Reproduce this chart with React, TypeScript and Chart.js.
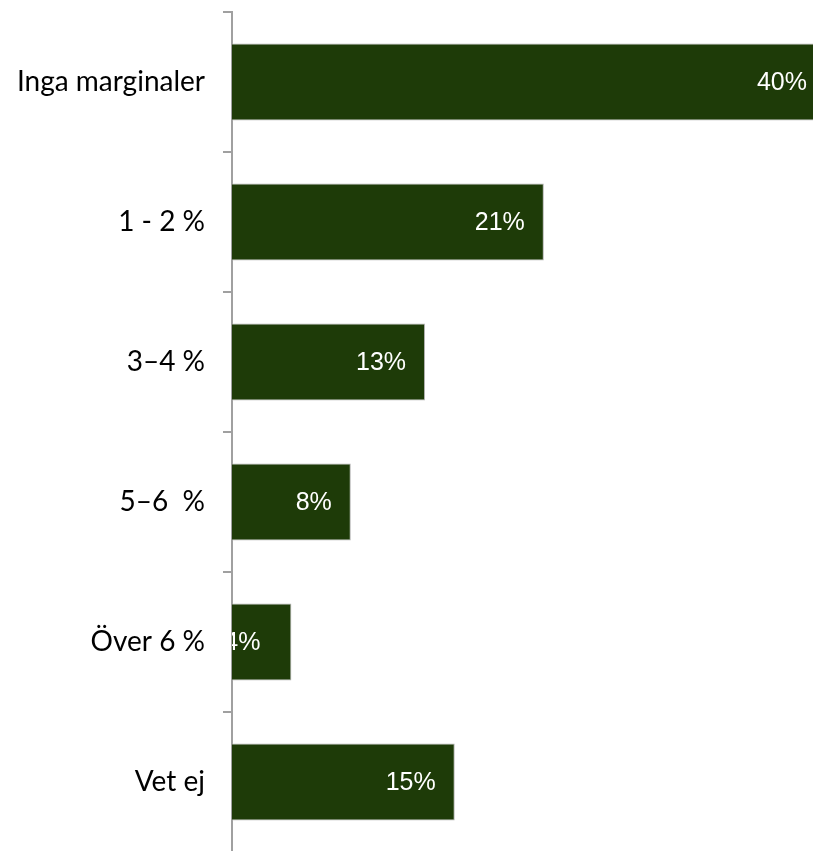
import React, { useEffect, useRef } from "react";
import { Chart, registerables } from "chart.js";

Chart.register(...registerables);

const categories = ["Inga marginaler", "1 - 2 %", "3–4 %", "5–6  %", "Över 6 %", "Vet ej"];
const values = [40, 21, 13, 8, 4, 15];
const valueLabels = ["40%", "21%", "13%", "8%", "4%", "15%"];

const BAR_COLOR = "#1e3b08";
const AXIS_COLOR = "#a0a0a0";

export default function App() {
  const ref = useRef<HTMLCanvasElement | null>(null);

  useEffect(() => {
    if (!ref.current) return;
    const labelPlugin = {
      id: "valueLabels",
      afterDatasetsDraw(chart: any) {
        const ctx = chart.ctx;
        const meta = chart.getDatasetMeta(0);
        const area = chart.chartArea;
        ctx.save();
        ctx.beginPath();
        ctx.rect(area.left, 0, chart.width, chart.height);
        ctx.clip();
        ctx.fillStyle = "#ffffff";
        ctx.font = "25px 'Liberation Sans', Arial, sans-serif";
        ctx.textAlign = "right";
        ctx.textBaseline = "middle";
        meta.data.forEach((el: any, i: number) => {
          const w = el.x - el.base;
          const off = w < 100 ? 31 : 19;
          ctx.fillText(valueLabels[i], el.x - off, el.y + 1);
        });
        ctx.restore();
      },
    };

    const chart = new Chart(ref.current, {
      type: "bar",
      data: {
        labels: categories,
        datasets: [
          {
            data: values,
            backgroundColor: BAR_COLOR,
            borderColor: "#b4b4b4",
            borderWidth: 1,
            categoryPercentage: 1,
            barPercentage: 0.55,
          },
        ],
      },
      options: {
        indexAxis: "y",
        animation: false,
        responsive: false,
        maintainAspectRatio: false,
        layout: { padding: { left: 0, top: 12, right: 14, bottom: 18 } },
        plugins: {
          legend: { display: false },
          tooltip: { enabled: false },
          title: { display: false },
        },
        scales: {
          x: {
            display: false,
            min: 0,
            max: 40,
          },
          y: {
            z: 1,
            afterFit(scale: any) {
              scale.width = 232;
              scale.paddingTop = 0;
              scale.paddingBottom = 0;
            },
            grid: {
              display: true,
              drawOnChartArea: false,
              drawTicks: true,
              tickLength: 9,
              color: AXIS_COLOR,
              lineWidth: 2,
              offset: true,
            },
            border: { display: true, color: AXIS_COLOR, width: 2 },
            ticks: {
              padding: 18,
              color: "#000000",
              font: { family: "Lato, 'Open Sans', sans-serif", size: 28 },
            },
          },
        },
      },
      plugins: [labelPlugin],
    });
    return () => chart.destroy();
  }, []);

  return (
    <div
      style={{
        position: "absolute",
        left: 0,
        top: 0,
        width: 813,
        height: 851,
        overflow: "hidden",
        background: "#ffffff",
      }}
    >
      <canvas ref={ref} width={840} height={870} style={{ width: 840, height: 870, display: "block" }} />
    </div>
  );
}
